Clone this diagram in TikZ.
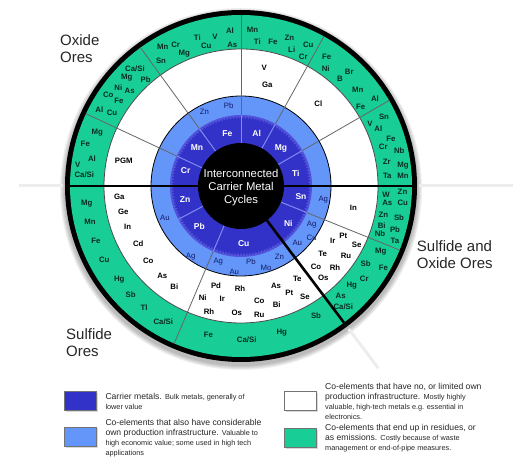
\documentclass[tikz,border=0pt]{standalone}
\usepackage{fontspec}
\setmainfont{Liberation Sans}
\usetikzlibrary{decorations.pathmorphing,shadows}

\definecolor{carrier}{RGB}{50,50,200}
\definecolor{carriermid}{RGB}{82,82,218}
\definecolor{coinfra}{RGB}{100,150,250}
\definecolor{residue}{RGB}{25,205,150}
\definecolor{navytext}{RGB}{18,28,105}
\definecolor{greentext}{RGB}{8,45,32}
\definecolor{seplight}{RGB}{125,140,240}

\tikzset{
  carrierlbl/.style={text=white,font=\fontsize{8.5}{10}\selectfont\bfseries,inner sep=0pt},
  infralbl/.style={text=navytext,font=\fontsize{7.8}{9}\selectfont,inner sep=0pt},
  nolbl/.style={text=black,font=\fontsize{7.8}{9}\selectfont\bfseries,inner sep=0pt},
  reslbl/.style={text=greentext,font=\fontsize{7.8}{9}\selectfont\bfseries,inner sep=0pt},
  hub/.style={text=white,font=\fontsize{11.3}{13.3}\selectfont,align=center,inner sep=0pt},
  oretitle/.style={font=\fontsize{15}{17}\selectfont,align=left,inner sep=0pt,text=black!85,anchor=west},
  keybox/.style={draw=black!55,line width=0.6pt,minimum width=32pt,minimum height=19.5pt,inner sep=0pt,
    drop shadow={shadow xshift=1.2pt,shadow yshift=-1.5pt,opacity=0.3}},
  keytext/.style={anchor=north west,align=left,inner sep=0pt,text=black!85,font=\fontsize{8.6}{10}\selectfont},
}
\newcommand\keysmall{\fontsize{7.3}{10}\selectfont}

\begin{document}
\begin{tikzpicture}[x=1pt,y=1pt]
\path[use as bounding box] (0,0) rectangle (530,474);
\coordinate (hubc) at (241,288);

% wheel
\begin{scope}[shift={(hubc)}]
\foreach \k in {1,...,5}
  \fill[black,opacity=0.06] (0,-3) circle ({176+\k});
\draw[black!7,line width=3pt] (180:178) -- (180:222);
\draw[black!7,line width=3pt] (0:178) -- (0:272);
\draw[black!7,line width=3pt] (-53:179) -- (-53:228);
\fill[black] (0,0) circle (176);
\fill[residue] (0,0) circle (171);
\draw[draw=black!70,fill=white,line width=0.8pt] (0,0) circle (137);
\draw[draw=black,fill=coinfra,line width=0.8pt] (0,0) circle (90);
\fill[carriermid] (0,0) circle (71);
\fill[carrier,decorate,decoration={zigzag,segment length=3pt,amplitude=1.4pt}] (0,0) circle (68.3);
\foreach \a in {155,126,90,61,30,-22,-113,-152}
  \draw[seplight,line width=1pt] (\a:43) -- (\a:71);
\foreach \a in {155,126,90,61,30,-22,-113}
  \draw[black!60,line width=0.8pt] (\a:71) -- (\a:171);
\draw[line width=2.6pt] (180:171) -- (0:171);
\draw[line width=2.6pt] (-53:43) -- (-53:171);
\fill[black] (0,0) circle (43);
\node[hub] (hub) at (0,-1.5) {Interconnected\\Carrier Metal\\Cycles};
\end{scope}

% labels, in pixel coordinates of the sheet
\begin{scope}[yshift=474pt,y=-1pt]
\foreach \px/\py/\t [count=\i] in {227.3/133.3/Fe,256.7/133.3/Al,281/148.3/Mg,295.7/173.7/Ti,
  301/196.7/Sn,288.3/223.3/Ni,243.7/244/Cu,199.3/226.7/Pb,185/199.3/Zn,185.7/170.7/Cr,197/147.7/Mn}
  \node[carrierlbl] (car\i) at (\px,\py) {\t};

\foreach \px/\py/\t [count=\i] in {204.3/112.3/Zn,228.7/106/Pb,323.3/200/Ag,311.7/225/Ag,
  311.7/237.7/Cu,297.3/242.7/Au,218.3/261.7/Ag,234.3/271.7/Au,251/261.7/Pb,266/268.3/Mo,
  279.3/256.7/Zn,165/218.3/Au,190.7/256.7/Ag}
  \node[infralbl] (inf\i) at (\px,\py) {\t};

\foreach \px/\py/\t [count=\i] in {123.7/161.3/PGM,264.3/68.3/V,267.3/85/Ga,318.3/104/Cl,
  353.3/208.3/In,343.3/235.7/Pt,332.7/241/Ir,356.7/245/Se,322.7/254/Te,346/256/Ru,316/267.3/Co,
  335/267.3/Rh,323.3/278.3/Os,216/286/Pd,240/289/Rh,202.7/297.7/Ni,222.3/299.3/Ir,259.3/301/Co,
  209/311.7/Rh,236.7/313.3/Os,259.3/315/Ru,297.3/279/Te,276/286/As,289.3/293.3/Pt,305/296.7/Se,
  276.7/305/Bi,119.3/197.3/Ga,123.3/212.3/Ge,127.7/226.7/In,138.3/244/Cd,148.3/260.7/Co,
  162.3/276/As,174.3/286.7/Bi}
  \node[nolbl] (non\i) at (\px,\py) {\t};

\foreach \px/\py/\t [count=\i] in {97.3/132.3/Mg,85.3/143.7/Fe,92/158.3/Al,77.7/164.7/V,
  84.3/174.7/{Ca/Si},
  135/69/{Ca/Si},126.7/77.3/Mg,145.7/79.7/Pb,118.3/87.3/Ni,129.7/90.7/As,108.3/94.7/Co,
  119/101.3/Fe,99.3/109.3/Al,112/113.3/Cu,
  162.7/46.7/Mn,175.7/45/Cr,184.3/53.3/Mg,161/60.7/Sn,197.3/37.7/Ti,215/37.3/V,206.3/45.7/Cu,
  230/30.3/Al,232.3/45/As,
  252.5/30/Mn,257.3/41.7/Ti,273/41.7/Fe,289.3/37.7/Zn,291.7/49.3/Li,308.3/45/Cu,303.3/56.7/Cr,
  326.7/56.7/Fe,325.7/69/Ni,349.3/71.7/Br,340/79.3/B,357.7/90/Mn,375/98.3/Al,360.7/107.3/Fe,
  384/116.7/Sn,370/124/V,378.3/128.3/Al,391/139.3/Fe,383.3/146.7/Cr,399.3/150.7/Nb,
  386.7/162.3/Zr,403/165.7/Mg,387.3/176.3/Ta,403/176.3/Mn,
  386/195/W,402.5/192.3/Zn,387.3/203.3/As,402.7/203.3/Cu,383.3/214.5/Zn,399/218.2/Sb,
  381.7/226/Bi,395/230/Pb,380/233.3/Nb,395/241/Ta,
  380.7/251.7/Mg,383.3/267.7/Fe,365.7/264/Sb,364.3/279.3/Cr,351.7/286/Hg,340.7/296/As,
  343.3/306.7/{Ca/Si},
  316/316/Sb,281.7/332.3/Hg,246.7/339.3/{Ca/Si},208.3/335/Fe,
  86.7/204/Mg,90/222.3/Mn,96/241/Fe,104.3/260/Cu,119.3/279.3/Hg,130.7/295/Sb,144/307.7/Tl,
  163.3/321.7/{Ca/Si}}
  \node[reslbl] (res\i) at (\px,\py) {\t};

% ore titles
\node[oretitle] (oxide) at (60,48.7) {Oxide\\Ores};
\node[oretitle] (mixed) at (416.7,254.7) {Sulfide and\\Oxide Ores};
\node[oretitle] (sulfide) at (66,342.5) {Sulfide\\Ores};

% key
\node[keybox,fill=carrier] (kcarrier) at (80.5,400.8) {};
\node[keybox,fill=coinfra] (kinfra) at (80.5,436.7) {};
\node[keybox,fill=white] (knone) at (300.5,400.8) {};
\node[keybox,fill=residue] (kresidue) at (300.5,437.8) {};
\node[keytext] (tcarrier) at (105.3,393.3)
  {Carrier metals. {\keysmall Bulk metals, generally of}\\{\keysmall lower value}};
\node[keytext] (tinfra) at (105.3,419)
  {Co-elements that also have considerable\\own production infrastructure. {\keysmall Valuable to}\\
   {\keysmall high economic value; some used in high tech}\\{\keysmall applications}};
\node[keytext] (tnone) at (325,382.7)
  {Co-elements that have no, or limited own\\production infrastructure. {\keysmall Mostly highly}\\
   {\keysmall valuable, high-tech metals e.g. essential in}\\{\keysmall electronics.}};
\node[keytext] (tresidue) at (325,424.5)
  {Co-elements that end up in residues, or\\as emissions. {\keysmall Costly because of waste}\\
   {\keysmall management or end-of-pipe measures.}};
\end{scope}
\end{tikzpicture}
\end{document}
